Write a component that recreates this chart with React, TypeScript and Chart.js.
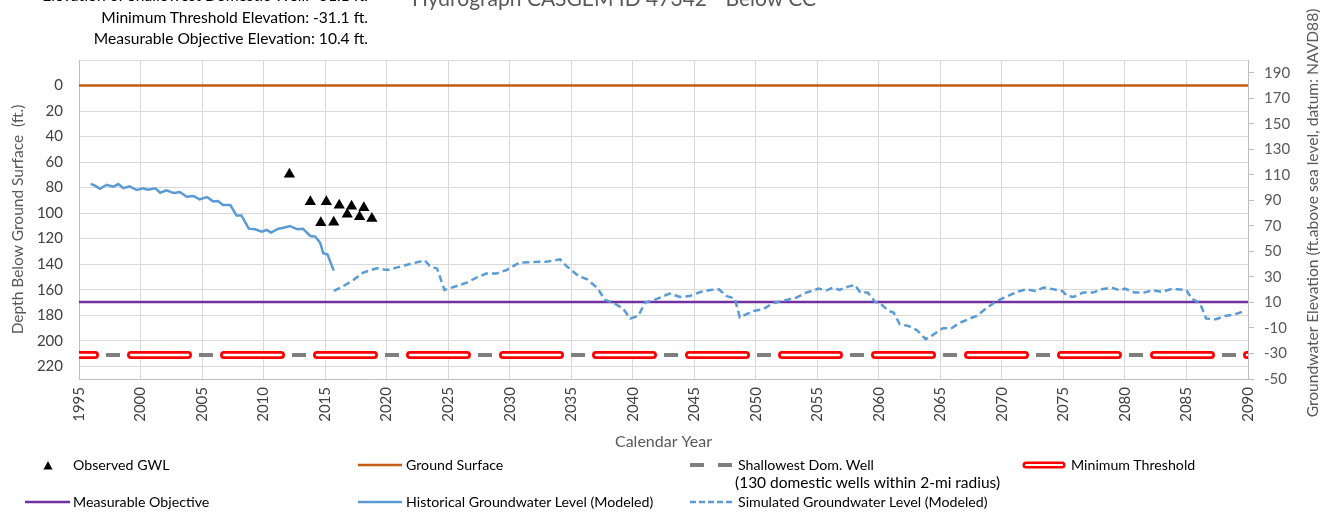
import React, { useEffect, useRef } from "react";
import { Chart, registerables } from "chart.js";

Chart.register(...registerables);

const FONT = "Lato, 'Open Sans', sans-serif";

// Axis ticks
const X_TICKS = [1995, 2000, 2005, 2010, 2015, 2020, 2025, 2030, 2035, 2040, 2045, 2050, 2055, 2060, 2065, 2070, 2075, 2080, 2085, 2090];
const LEFT_TICKS = [0, 20, 40, 60, 80, 100, 120, 140, 160, 180, 200, 220];
const RIGHT_TICKS = [-50, -30, -10, 10, 30, 50, 70, 90, 110, 130, 150, 170, 190];

// Reference levels (depth below ground surface, ft)
const X_RANGE = [1995, 2090];
const GROUND_DEPTH = 0;
const MO_DEPTH = 169.6; // elevation 10.4 ft
const MT_DEPTH = 211.1; // elevation -31.1 ft
const SHALLOW_WELL_DEPTH = 211.1; // elevation -31.1 ft

// Observed GWL
const OBS_YEARS = [2012.1, 2013.8, 2014.65, 2015.1, 2015.7, 2016.15, 2016.8, 2017.15, 2017.8, 2018.15, 2018.8];
const OBS_DEPTHS = [69.5, 91, 107.5, 91, 107.2, 93.8, 100.8, 94.6, 102.9, 95.7, 104.2];

// Historical groundwater level (modeled)
const HIST_YEARS = [1995.95, 1996.3, 1996.7, 1997.25, 1997.8, 1998.2, 1998.6, 1999.1, 1999.7, 2000.2, 2000.6, 2001.2, 2001.6, 2002.1, 2002.7, 2003.2, 2003.75, 2004.3, 2004.8, 2005.4, 2005.9, 2006.3, 2006.7, 2007.3, 2007.8, 2008.2, 2008.8, 2009.3, 2009.85, 2010.25, 2010.6, 2011.2, 2011.55, 2012.15, 2012.75, 2013.2, 2013.8, 2014.2, 2014.6, 2014.85, 2015.2, 2015.45, 2015.7];
const HIST_DEPTHS = [77.0, 78.5, 80.9, 77.8, 79.3, 77.2, 80.4, 79.1, 81.9, 80.6, 81.7, 80.6, 84.0, 82.2, 84.3, 83.5, 87.1, 86.6, 89.2, 87.4, 90.8, 90.5, 93.7, 93.7, 101.8, 101.8, 112.2, 112.7, 114.5, 113.2, 115.3, 112.2, 111.7, 110.1, 112.7, 112.2, 117.9, 118.4, 123.2, 131.5, 132.5, 138.8, 145.1];

// Simulated groundwater level (modeled)
const SIM_YEARS = [2015.7, 2016.5, 2017.3, 2018.1, 2019.2, 2020.1, 2020.8, 2021.9, 2023.1, 2023.5, 2024.1, 2024.7, 2025.7, 2026.5, 2027.3, 2028.1, 2028.9, 2029.75, 2030.8, 2031.9, 2033.0, 2034.1, 2034.6, 2035.6, 2036.3, 2037.1, 2037.75, 2038.4, 2039.2, 2039.8, 2040.45, 2041.0, 2041.7, 2042.2, 2043.0, 2043.85, 2044.65, 2045.5, 2046.3, 2047.0, 2047.6, 2048.3, 2048.7, 2049.8, 2050.6, 2051.4, 2052.2, 2053.3, 2054.1, 2055.1, 2055.75, 2056.3, 2056.8, 2057.5, 2058.05, 2058.5, 2059.1, 2059.7, 2060.1, 2060.8, 2061.2, 2061.7, 2062.4, 2063.1, 2063.8, 2064.4, 2065.2, 2065.9, 2066.6, 2067.4, 2067.95, 2068.8, 2069.6, 2070.5, 2071.2, 2072.0, 2072.7, 2073.4, 2074.2, 2074.9, 2075.3, 2075.8, 2076.6, 2077.4, 2078.1, 2078.9, 2079.6, 2080.0, 2080.8, 2081.5, 2082.3, 2083.0, 2083.7, 2084.3, 2085.0, 2085.4, 2086.1, 2086.6, 2087.4, 2088.1, 2088.75, 2089.5];
const SIM_DEPTHS = [161.0, 157.1, 152.4, 146.6, 143.2, 144.6, 142.7, 139.9, 137.0, 141.4, 143.5, 160.2, 157.1, 154.5, 150.6, 147.4, 147.4, 144.6, 138.8, 138.3, 138.1, 136.2, 141.4, 149.3, 151.9, 158.4, 168.1, 170.1, 174.8, 182.6, 180.6, 170.1, 168.3, 166.2, 163.1, 165.7, 164.9, 161.8, 160.2, 159.7, 164.9, 167.0, 181.8, 176.7, 175.3, 170.6, 168.8, 166.2, 162.3, 159.2, 160.5, 158.4, 160.2, 157.6, 156.3, 162.3, 162.3, 169.6, 170.6, 176.7, 177.9, 187.1, 188.4, 191.8, 198.8, 195.4, 190.2, 190.2, 185.8, 182.6, 180.6, 174.0, 168.8, 164.9, 161.8, 159.7, 161.0, 158.4, 159.7, 161.0, 164.9, 165.7, 162.3, 162.3, 159.7, 158.4, 160.5, 159.2, 162.3, 162.3, 160.5, 161.8, 159.7, 159.7, 160.2, 167.0, 170.6, 182.6, 183.2, 180.6, 179.8, 177.5];

const pts = (xs: number[], ys: number[]) => xs.map((x, i) => ({ x, y: ys[i] }));
const hline = (d: number) => [{ x: X_RANGE[0], y: d }, { x: X_RANGE[1], y: d }];

const BLUE = "#5B9BD5";
const ORANGE = "#C55A11";
const PURPLE = "#7030A0";
const GRAY = "#7F7F7F";
const RED = "#FF0000";
const GRID = "#D9D9D9";
const AXIS = "#BFBFBF";

export default function App() {
  const ref = useRef<HTMLCanvasElement>(null);

  useEffect(() => {
    if (!ref.current) return;
    Chart.defaults.font.family = FONT;
    const chart = new Chart(ref.current, {
      type: "line",
      data: {
        datasets: [
          {
            label: "Observed GWL",
            data: pts(OBS_YEARS, OBS_DEPTHS),
            showLine: false,
            pointStyle: "triangle",
            pointRadius: 6.5,
            pointBackgroundColor: "#000",
            pointBorderColor: "#000",
            pointBorderWidth: 0,
            order: 0,
          },
          {
            label: "Historical Groundwater Level (Modeled)",
            data: pts(HIST_YEARS, HIST_DEPTHS),
            borderColor: BLUE,
            borderWidth: 2.5,
            pointRadius: 0,
            tension: 0,
            order: 1,
          },
          {
            label: "Simulated Groundwater Level (Modeled)",
            data: pts(SIM_YEARS, SIM_DEPTHS),
            borderColor: BLUE,
            borderWidth: 2.5,
            borderDash: [7, 4],
            pointRadius: 0,
            tension: 0,
            order: 2,
          },
          {
            label: "Measurable Objective",
            data: hline(MO_DEPTH),
            borderColor: PURPLE,
            borderWidth: 2.5,
            pointRadius: 0,
            order: 3,
          },
          {
            label: "Minimum Threshold inner",
            data: hline(MT_DEPTH),
            borderColor: "#FFFFFF",
            borderWidth: 2.5,
            borderDash: [57, 36],
            borderDashOffset: 41,
            borderCapStyle: "round",
            pointRadius: 0,
            order: 4,
          },
          {
            label: "Minimum Threshold",
            data: hline(MT_DEPTH),
            borderColor: RED,
            borderWidth: 8,
            borderDash: [57, 36],
            borderDashOffset: 41,
            borderCapStyle: "round",
            pointRadius: 0,
            order: 5,
          },
          {
            label: "Shallowest Dom. Well",
            data: hline(SHALLOW_WELL_DEPTH),
            borderColor: GRAY,
            borderWidth: 4,
            borderDash: [14, 17],
            borderDashOffset: 4,
            pointRadius: 0,
            order: 6,
          },
          {
            label: "Ground Surface",
            data: hline(GROUND_DEPTH),
            borderColor: ORANGE,
            borderWidth: 2.5,
            pointRadius: 0,
            order: 7,
          },
        ],
      },
      options: {
        animation: false,
        responsive: false,
        maintainAspectRatio: false,
        layout: { padding: { top: 60, left: 0, right: 0, bottom: 0 } },
        plugins: { legend: { display: false }, tooltip: { enabled: false }, title: { display: false } },
        scales: {
          x: {
            type: "linear",
            min: X_RANGE[0],
            max: X_RANGE[1],
            afterBuildTicks: (axis: any) => {
              axis.ticks = X_TICKS.map((v) => ({ value: v }));
            },
            afterFit: (scale: any) => {
              scale.height = 138;
            },
            ticks: {
              autoSkip: false,
              maxRotation: 90,
              minRotation: 90,
              padding: 8,
              color: "#404040",
              font: { size: 15 },
              callback: (v: any) => String(v),
            },
            grid: { color: GRID, drawTicks: false },
            border: { color: AXIS },
            title: {
              display: true,
              text: "Calendar Year",
              color: "#595959",
              font: { size: 16 },
              padding: { top: 0, bottom: 66 },
            },
          },
          y: {
            type: "linear",
            position: "left",
            reverse: true,
            min: -20,
            max: 230,
            afterBuildTicks: (axis: any) => {
              axis.ticks = [-20, ...LEFT_TICKS].map((v) => ({ value: v }));
            },
            afterFit: (scale: any) => {
              scale.width = 79;
            },
            ticks: {
              padding: 16,
              color: "#404040",
              font: { size: 15 },
              callback: (v: any) => (Number(v) < 0 ? "" : String(v)),
            },
            grid: { color: GRID, drawTicks: false },
            border: { color: AXIS },
            title: {
              display: true,
              text: "Depth Below Ground Surface  (ft.)",
              color: "#595959",
              font: { size: 15.5 },
              padding: { top: 9, bottom: 0 },
            },
          },
          y2: {
            type: "linear",
            position: "right",
            min: -50,
            max: 200,
            afterBuildTicks: (axis: any) => {
              axis.ticks = RIGHT_TICKS.map((v) => ({ value: v }));
            },
            afterFit: (scale: any) => {
              scale.width = 85;
            },
            ticks: {
              padding: 10,
              color: "#595959",
              font: { size: 15 },
              callback: (v: any) => String(v),
            },
            grid: { drawOnChartArea: false, drawTicks: true, tickLength: 6, color: AXIS },
            border: { color: AXIS },
          },
        },
      },
    } as any);
    return () => chart.destroy();
  }, []);

  const legendText: React.CSSProperties = {
    position: "absolute",
    fontSize: 14.2,
    lineHeight: 1,
    whiteSpace: "nowrap",
    color: "#000",
    transform: "translateY(-50%)",
  };
  const annot: React.CSSProperties = {
    position: "absolute",
    right: 1333 - 368,
    fontSize: 15.6,
    lineHeight: 1,
    whiteSpace: "nowrap",
    color: "#000",
    textAlign: "right",
  };

  return (
    <div
      style={{
        position: "absolute",
        left: 0,
        top: 0,
        width: 1333,
        height: 517,
        overflow: "hidden",
        background: "#fff",
        fontFamily: FONT,
      }}
    >
      <canvas ref={ref} width={1333} height={517} style={{ position: "absolute", left: 0, top: 0, width: 1333, height: 517 }} />

      {/* Title and annotations */}
      <div
        style={{
          position: "absolute",
          left: 614,
          top: -13,
          transform: "translateX(-50%)",
          fontSize: 21,
          lineHeight: 1,
          whiteSpace: "nowrap",
          color: "#595959",
        }}
      >
        Hydrograph CASGEM ID 47342 - Below CC
      </div>
      <div style={{ ...annot, top: -12 }}>Elevation of Shallowest Domestic Well: -31.1 ft.</div>
      <div style={{ ...annot, top: 10 }}>Minimum Threshold Elevation: -31.1 ft.</div>
      <div style={{ ...annot, top: 31 }}>Measurable Objective Elevation: 10.4 ft.</div>

      {/* Right axis title */}
      <div
        style={{
          position: "absolute",
          left: 1313,
          top: 213,
          transform: "translate(-50%, -50%) rotate(-90deg)",
          fontSize: 15.6,
          lineHeight: 1,
          whiteSpace: "nowrap",
          color: "#595959",
        }}
      >
        Groundwater Elevation (ft.above sea level, datum: NAVD88)
      </div>

      {/* Legend */}
      <svg width={1333} height={517} style={{ position: "absolute", left: 0, top: 0 }}>
        <polygon points="43.5,469.5 52.5,469.5 48,461" fill="#000" />
        <line x1={358} y1={465} x2={402} y2={465} stroke={ORANGE} strokeWidth={2.5} />
        <line x1={690} y1={465} x2={732} y2={465} stroke={GRAY} strokeWidth={4} strokeDasharray="14 14" />
        <line x1={1026} y1={465} x2={1062} y2={465} stroke={RED} strokeWidth={7} strokeLinecap="round" />
        <line x1={1026} y1={465} x2={1062} y2={465} stroke="#fff" strokeWidth={2.2} strokeLinecap="round" />
        <line x1={25} y1={502} x2={70} y2={502} stroke={PURPLE} strokeWidth={2.5} />
        <line x1={358} y1={502} x2={402} y2={502} stroke={BLUE} strokeWidth={2.5} />
        <line x1={690} y1={502} x2={735} y2={502} stroke={BLUE} strokeWidth={2.5} strokeDasharray="6 3" />
      </svg>
      <div style={{ ...legendText, left: 73, top: 465 }}>Observed GWL</div>
      <div style={{ ...legendText, left: 406, top: 465 }}>Ground Surface</div>
      <div style={{ ...legendText, left: 738, top: 465 }}>Shallowest Dom. Well</div>
      <div style={{ ...legendText, left: 735, top: 483, fontSize: 15.5 }}>(130 domestic wells within 2-mi radius)</div>
      <div style={{ ...legendText, left: 1071, top: 465 }}>Minimum Threshold</div>
      <div style={{ ...legendText, left: 73, top: 502 }}>Measurable Objective</div>
      <div style={{ ...legendText, left: 406, top: 502 }}>Historical Groundwater Level (Modeled)</div>
      <div style={{ ...legendText, left: 738, top: 502 }}>Simulated Groundwater Level (Modeled)</div>
    </div>
  );
}
